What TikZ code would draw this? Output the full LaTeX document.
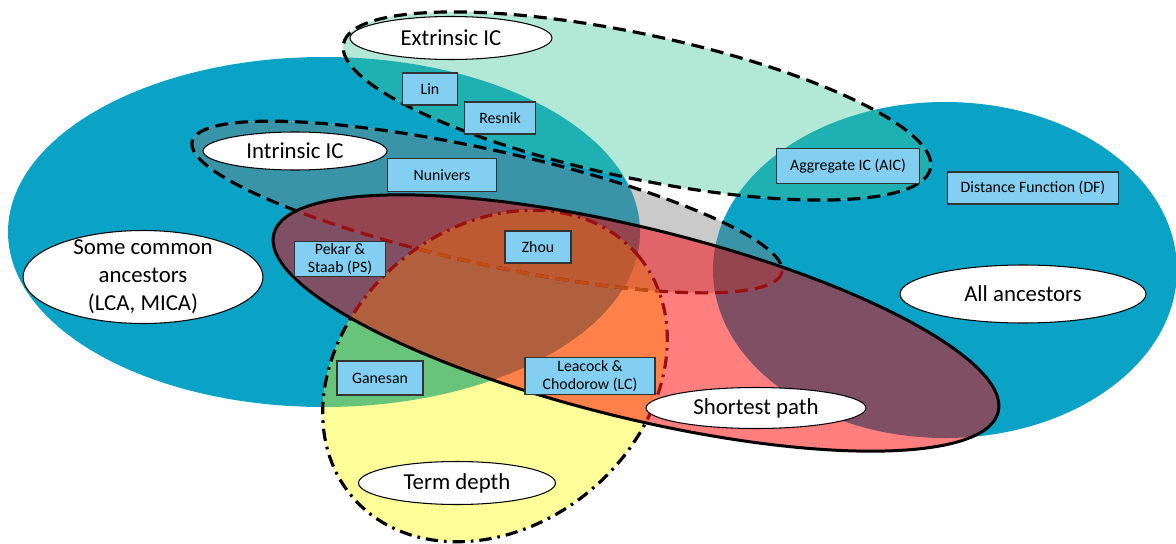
\documentclass[tikz,border=0pt]{standalone}
\usepackage{fontspec}
\setmainfont{Carlito}
\usepackage{tikz}
\usetikzlibrary{shapes.geometric}

\definecolor{ancestorBlue}{HTML}{0AA2C5}
\definecolor{extrinsicFill}{HTML}{B2E8D6}
\definecolor{extrinsicBlue}{HTML}{1FB0B2}
\definecolor{intrinsicFill}{HTML}{CACACA}
\definecolor{intrinsicBlue}{HTML}{3A94A8}
\definecolor{depthFill}{HTML}{FFFF99}
\definecolor{depthBlue}{HTML}{67C47A}
\definecolor{pathFill}{HTML}{FF7F7F}
\definecolor{pathBlue}{HTML}{7F4F63}
\definecolor{pathGray}{HTML}{E06468}
\definecolor{pathGrayBlue}{HTML}{954550}
\definecolor{pathDepth}{HTML}{FF8048}
\definecolor{pathDepthBlue}{HTML}{B0603C}
\definecolor{pathDepthGray}{HTML}{E46A3E}
\definecolor{pathDepthGrayBlue}{HTML}{BE5A32}
\definecolor{boxBlue}{HTML}{82CFF2}
\definecolor{darkRedLine}{HTML}{9A1010}
\definecolor{burntLine}{HTML}{C04E14}

% the six sets
\newcommand{\someCommonSet}{(324,232) ellipse [x radius=316, y radius=175]}
\newcommand{\allAncestorsSet}{(945,270) ellipse [x radius=232, y radius=168]}
\newcommand{\extrinsicSet}{(637,106) ellipse [x radius=300, y radius=72]}
\newcommand{\intrinsicSet}{(487,207) ellipse [x radius=302, y radius=57]}
\newcommand{\termDepthSet}{(495,376) ellipse [x radius=187, y radius=149]}
\newcommand{\shortestSet}{(636,323) ellipse [x radius=373, y radius=95]}

\tikzset{
	extrinsicTilt/.style={rotate around={-12:(637,106)}},
	intrinsicTilt/.style={rotate around={-12.5:(487,207)}},
	termDepthTilt/.style={rotate around={40:(495,376)}},
	shortestTilt/.style={rotate around={-13.8:(636,323)}},
	icOutline/.style={line width=1.8pt, dash pattern=on 7.4pt off 4pt},
	depthOutline/.style={line width=1.8pt, dash pattern=on 7pt off 3.4pt on 1.5pt off 3.4pt},
	pathOutline/.style={line width=1.7pt},
	methodBox/.style={
		draw=black!80,
		line width=0.9pt,
		fill=boxBlue,
		align=center,
		inner sep=1pt,
		font=\fontsize{9}{10.5}\selectfont
	},
	setLabel/.style={
		ellipse,
		draw=black,
		line width=0.6pt,
		fill=white,
		align=center,
		inner sep=-0.15cm,
		font=\fontsize{13}{16}\selectfont
	}
}

\begin{document}
\begin{tikzpicture}[x=0.02cm, y=-0.02cm]

	\useasboundingbox (0,0) rectangle (1176,544);

	% ancestors
	\fill[ancestorBlue] \someCommonSet;
	\fill[ancestorBlue] \allAncestorsSet;

	% extrinsic IC
	\fill[extrinsicFill, extrinsicTilt] \extrinsicSet;
	\begin{scope}
		\clip[extrinsicTilt] \extrinsicSet;
		\fill[extrinsicBlue] \someCommonSet;
		\fill[extrinsicBlue] \allAncestorsSet;
	\end{scope}

	% intrinsic IC
	\fill[intrinsicFill, intrinsicTilt] \intrinsicSet;
	\begin{scope}
		\clip[intrinsicTilt] \intrinsicSet;
		\fill[intrinsicBlue] \someCommonSet;
		\fill[intrinsicBlue] \allAncestorsSet;
	\end{scope}

	% term depth
	\fill[depthFill, termDepthTilt] \termDepthSet;
	\begin{scope}
		\clip[termDepthTilt] \termDepthSet;
		\fill[depthBlue] \someCommonSet;
	\end{scope}

	% outlines under the shortest path
	\draw[icOutline, extrinsicTilt] \extrinsicSet;
	\draw[icOutline, intrinsicTilt] \intrinsicSet;
	\draw[depthOutline, termDepthTilt] \termDepthSet;

	% shortest path
	\begin{scope}
		\clip[shortestTilt] \shortestSet;
		\fill[pathFill] (0,0) rectangle (1176,544);
		\fill[pathBlue] \someCommonSet;
		\fill[pathBlue] \allAncestorsSet;
		\fill[pathGray, intrinsicTilt] \intrinsicSet;
		\begin{scope}
			\clip[intrinsicTilt] \intrinsicSet;
			\fill[pathGrayBlue] \someCommonSet;
			\fill[pathGrayBlue] \allAncestorsSet;
		\end{scope}
		\begin{scope}
			\clip[termDepthTilt] \termDepthSet;
			\fill[pathDepth] (0,0) rectangle (1176,544);
			\fill[pathDepthBlue] \someCommonSet;
			\fill[pathDepthGray, intrinsicTilt] \intrinsicSet;
			\begin{scope}
				\clip[intrinsicTilt] \intrinsicSet;
				\fill[pathDepthGrayBlue] \someCommonSet;
			\end{scope}
		\end{scope}
		\draw[icOutline, draw=darkRedLine, intrinsicTilt] \intrinsicSet;
		\draw[depthOutline, draw=darkRedLine, termDepthTilt] \termDepthSet;
		\begin{scope}
			\clip[termDepthTilt] \termDepthSet;
			\draw[icOutline, draw=burntLine, intrinsicTilt] \intrinsicSet;
		\end{scope}
	\end{scope}
	\draw[pathOutline, shortestTilt] \shortestSet;

	% set labels
	\node[setLabel, minimum width=4.04cm, minimum height=0.86cm] (extrinsicLabel) at (451,38) {Extrinsic IC};
	\node[setLabel, minimum width=3.68cm, minimum height=0.76cm] (intrinsicLabel) at (295,151) {Intrinsic IC};
	\node[setLabel, minimum width=4.80cm, minimum height=1.86cm] (someCommonLabel) at (143,277) {Some common\\ancestors\\(LCA, MICA)};
	\node[setLabel, minimum width=4.92cm, minimum height=1.16cm] (allAncestorsLabel) at (1023,294) {All ancestors};
	\node[setLabel, minimum width=4.40cm, minimum height=0.82cm] (shortestLabel) at (756,408) {Shortest path};
	\node[setLabel, minimum width=3.94cm, minimum height=0.86cm] (termDepthLabel) at (457,483) {Term depth};

	% measures
	\node[methodBox, minimum width=1.10cm, minimum height=0.64cm] (lin) at (430,89) {Lin};
	\node[methodBox, minimum width=1.42cm, minimum height=0.64cm] (resnik) at (500,118) {Resnik};
	\node[methodBox, minimum width=2.18cm, minimum height=0.66cm] (nunivers) at (442,175) {Nunivers};
	\node[methodBox, minimum width=1.82cm, minimum height=0.70cm] (pekarStaab) at (340,259) {Pekar \&\\Staab (PS)};
	\node[methodBox, minimum width=1.32cm, minimum height=0.64cm] (zhou) at (538,247) {Zhou};
	\node[methodBox, minimum width=1.72cm, minimum height=0.68cm] (ganesan) at (380,378) {Ganesan};
	\node[methodBox, minimum width=2.60cm, minimum height=0.74cm] (leacockChodorow) at (590,376) {Leacock \&\\Chodorow (LC)};
	\node[methodBox, minimum width=2.86cm, minimum height=0.70cm] (aggregateIC) at (848,166) {Aggregate IC (AIC)};
	\node[methodBox, minimum width=3.42cm, minimum height=0.64cm] (distanceFunction) at (1033,188) {Distance Function (DF)};

\end{tikzpicture}
\end{document}
